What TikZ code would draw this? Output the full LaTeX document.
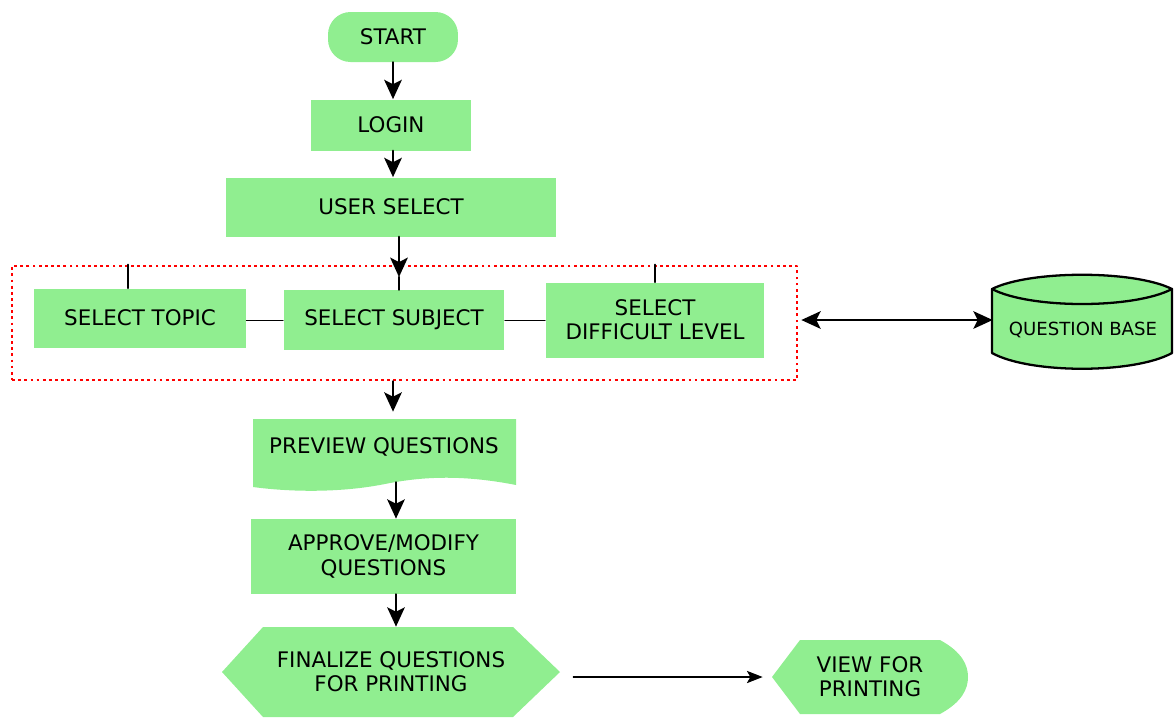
\documentclass[tikz,border=0pt]{standalone}
\usepackage{fontspec}
\setmainfont{DejaVu Sans}
\usetikzlibrary{arrows.meta}
\definecolor{boxgreen}{RGB}{144,238,144}

\begin{document}
\begin{tikzpicture}[x=0.02cm, y=-0.02cm, line cap=round, line join=round, font=\fontsize{12.2}{13.8}\selectfont, >={Stealth[length=11pt,width=10pt,inset=2.5pt]}]
	\tikzset{box/.style={fill=boxgreen, align=center, inner sep=0pt},
		flow/.style={->, line width=1.4pt},
		link/.style={line width=0.5pt}}
	\useasboundingbox (0,0) rectangle (1174,718);
	\node[box, rounded corners=0.45cm, minimum width=2.6cm, minimum height=1cm] (start) at (393,37) {START};
	\node[box, minimum width=3.22cm, minimum height=1.02cm] (login) at (391,125) {LOGIN};
	\node[box, minimum width=6.6cm, minimum height=1.18cm] (user) at (391,207) {USER SELECT};
	% selection group
	\node[draw=red, line width=1.6pt, line cap=butt, dash pattern=on 1.6pt off 1.9pt, minimum width=15.7cm, minimum height=2.28cm] (frame) at (404.5,323) {};
	\node[box, minimum width=4.24cm, minimum height=1.18cm] (topic) at (140,318) {SELECT TOPIC};
	\node[box, minimum width=4.42cm, minimum height=1.2cm] (subj) at (394,320) {SELECT SUBJECT};
	\node[box, minimum width=4.38cm, minimum height=1.5cm] (diff) at (655,320) {SELECT\\DIFFICULT LEVEL};
	% question base
	\filldraw[fill=boxgreen, line width=1.3pt] (992,289) .. controls (1030,270) and (1134,270) .. (1172,289) -- (1172,353) .. controls (1134,374) and (1030,374) .. (992,353) -- cycle;
	\draw[line width=1.3pt] (992,289) .. controls (1030,309) and (1134,309) .. (1172,289);
	\node[inner sep=0pt, minimum width=3.6cm, font=\fontsize{10.3}{12}\selectfont] (qbase) at (1083,330) {QUESTION BASE};
	% preview, finalize, view
	\fill[boxgreen] (253,419) -- (516,419) -- (516,485) .. controls (460,474) and (420,477) .. (385,484) .. controls (340,493) and (290,492) .. (253,487) -- cycle;
	\node[inner sep=0pt, minimum width=5.26cm, minimum height=1.4cm] (prev) at (384,447) {PREVIEW QUESTIONS};
	\node[box, minimum width=5.3cm, minimum height=1.5cm] (appr) at (383.5,556.5) {APPROVE/MODIFY\\QUESTIONS};
	\fill[boxgreen] (222,672) -- (263,627) -- (513,627) -- (560,672) -- (513,717) -- (263,717) -- cycle;
	\node[inner sep=0pt, align=center, minimum width=6.76cm, minimum height=1.8cm] (fin) at (391,672) {FINALIZE QUESTIONS\\FOR PRINTING};
	\fill[boxgreen] (772,677) -- (800,640) -- (940,640) .. controls (962,652) and (968,665) .. (968,677) .. controls (968,689) and (962,702) .. (940,714) -- (800,714) -- cycle;
	\node[inner sep=0pt, align=center, minimum width=3.92cm, minimum height=1.48cm] (view) at (870,677) {VIEW FOR\\PRINTING};
	% connectors
	\draw[flow] (start) -- (login.north -| start);
	\draw[flow] (login.south -| start) -- (user.north -| start);
	\coordinate (tip) at (399,277);
	\draw[flow] (user.south -| tip) -- (tip);
	\draw[line width=1.4pt] (tip) -- (subj.north -| tip);
	\draw[line width=1.2pt] ([xshift=-0.24cm]topic.north |- frame.north) -- ([xshift=-0.24cm]topic.north);
	\draw[line width=1.2pt] (diff.north |- frame.north) -- (diff.north);
	\draw[link] (topic.east |- subj) -- (subj.west);
	\draw[link] (subj.east) -- (diff.west |- subj);
	\draw[<->, line width=1.4pt] ([xshift=0.06cm]frame.east |- subj) -- (qbase.west |- subj);
	\draw[flow] (frame.south -| start) -- (prev.north -| start);
	\draw[flow] ([xshift=0.24cm]prev.south) -- ([xshift=0.24cm]prev.south |- appr.north);
	\draw[flow] ([xshift=0.24cm]prev.south |- appr.south) -- ([xshift=0.24cm]prev.south |- fin.north);
	\draw[->, line width=0.7pt, >={Stealth[length=9pt,width=7pt,inset=2pt]}] ([xshift=0.26cm]fin.east |- view) -- ([xshift=-0.18cm]view.west);
\end{tikzpicture}
\end{document}
